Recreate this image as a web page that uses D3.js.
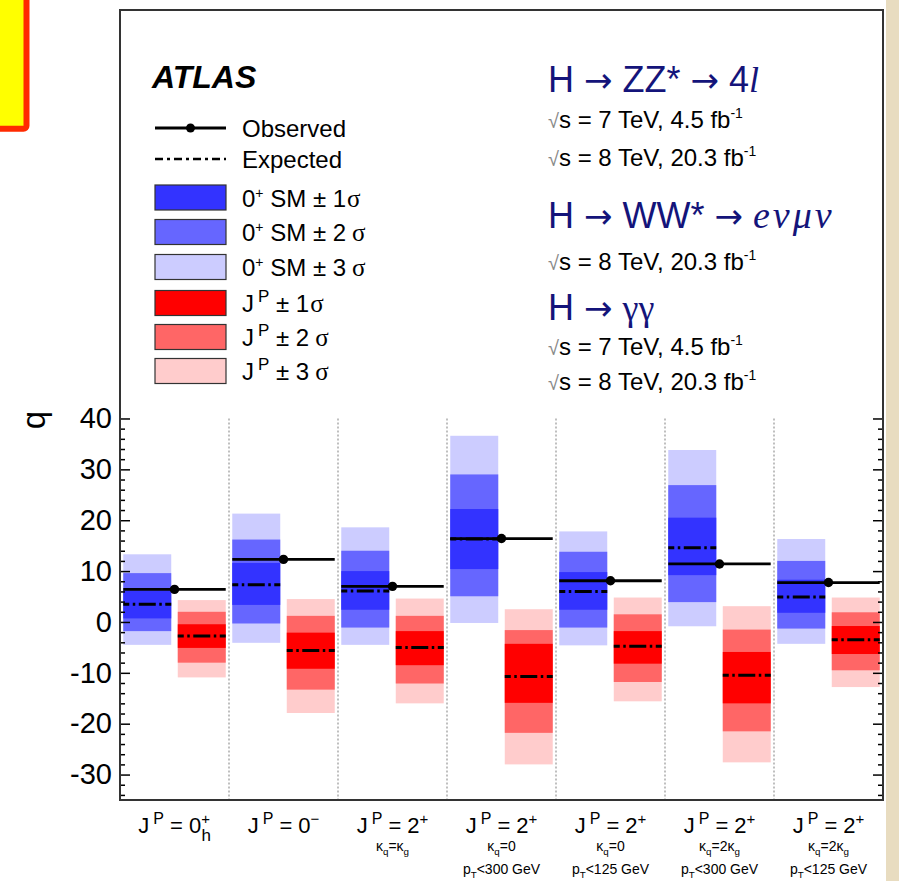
<!DOCTYPE html>
<html>
<head>
<meta charset="utf-8">
<script src="https://cdn.jsdelivr.net/npm/d3@7"></script>
<style>
body{margin:0;background:#fff;}
svg{display:block;font-family:"Liberation Sans",Arial,Helvetica,sans-serif;}
</style>
</head>
<body>
<svg id="chart" width="899" height="881"></svg>
<script>
//////////////// data
var categories=["0h+","0-","2+ kq=kg","2+ kq=0 300","2+ kq=0 125","2+ kq=2kg 300","2+ kq=2kg 125"];
var labelSpin=["0","0","2","2","2","2","2"];
var labelSup=["+","\u2212","+","+","+","+","+"];
var labelSub=["h","","","","","",""];
var labelCoupling=["","","κ_q=κ_g","κ_q=0","κ_q=0","κ_q=2κ_g","κ_q=2κ_g"];
var labelPt=["","","","p_T<300 GeV","p_T<125 GeV","p_T<300 GeV","p_T<125 GeV"];

var observed=[6.4,12.3,7.0,16.4,8.1,11.4,7.75];

// 0+ SM expectation and bands
var expSM=[3.5,7.3,6.1,16.3,6.0,14.6,4.9];
var sm1lo=[0.7,3.35,2.4,10.4,2.4,9.2,1.8];
var sm1hi=[6.2,11.6,10.0,22.2,9.8,20.5,8.3];
var sm2lo=[-1.8,-0.3,-1.1,5.05,-1.1,3.9,-1.3];
var sm2hi=[9.6,16.2,14.0,29.0,13.8,26.9,12.0];
var sm3lo=[-4.5,-4.1,-4.5,-0.2,-4.6,-0.85,-4.3];
var sm3hi=[13.3,21.3,18.6,36.6,17.8,33.8,16.3];

// alternative J^P expectation and bands
var expAlt=[-2.75,-5.6,-5.0,-10.7,-4.8,-10.5,-3.5];
var alt1lo=[-5.1,-9.2,-8.5,-15.9,-8.2,-16.0,-6.3];
var alt1hi=[-0.45,-2.1,-1.8,-4.3,-1.8,-5.9,-0.8];
var alt2lo=[-8.0,-13.3,-12.1,-21.8,-11.8,-21.5,-9.5];
var alt2hi=[2.0,1.2,1.2,-1.6,1.5,-1.5,1.9];
var alt3lo=[-10.9,-17.9,-16.0,-28.0,-15.6,-27.6,-12.8];
var alt3hi=[4.3,4.5,4.6,2.5,4.8,3.1,4.8];

var yTicks=[-30,-20,-10,0,10,20,30,40];
var yMinorTicks=d3.range(-34,40,2).filter(function(v){return v%10!==0;});

//////////////// layout
var svg=d3.select("#chart");
var frame={left:120,right:883,top:10,bottom:800};

var x=d3.scaleBand().domain(categories).range([frame.left,frame.right]).paddingInner(0).paddingOuter(0);
var y=d3.scaleLinear().domain([-35,120.3]).range([frame.bottom,frame.top]);
var bw=x.bandwidth();

var blues=["#3333ff","#6666ff","#ccccff"];
var reds=["#ff0000","#ff6666","#ffcccc"];

// page decorations
svg.append("rect").attr("x",886).attr("y",0).attr("width",13).attr("height",881).attr("fill","#e8dcc0");
svg.append("rect").attr("x",-10).attr("y",-10).attr("width",36.5).attr("height",138.7).attr("rx",3)
	.attr("fill","#ffff00").attr("stroke","#ff2a00").attr("stroke-width",6);

//////////////// bands
var plot=svg.append("g");
categories.forEach(function(c,i){
	var x0=x(c);
	var bx=x0+0.03*bw, rx=x0+0.53*bw, w=0.44*bw;
	var smBands=[[sm3lo[i],sm3hi[i],blues[2]],[sm2lo[i],sm2hi[i],blues[1]],[sm1lo[i],sm1hi[i],blues[0]]];
	var altBands=[[alt3lo[i],alt3hi[i],reds[2]],[alt2lo[i],alt2hi[i],reds[1]],[alt1lo[i],alt1hi[i],reds[0]]];
	smBands.forEach(function(b){
		plot.append("rect").attr("x",bx).attr("width",w).attr("y",y(b[1])).attr("height",y(b[0])-y(b[1])).attr("fill",b[2]);
	});
	altBands.forEach(function(b){
		plot.append("rect").attr("x",rx).attr("width",w).attr("y",y(b[1])).attr("height",y(b[0])-y(b[1])).attr("fill",b[2]);
	});
	//expected medians
	[[bx,expSM[i]],[rx,expAlt[i]]].forEach(function(e){
		plot.append("line").attr("x1",e[0]).attr("x2",e[0]+w).attr("y1",y(e[1])).attr("y2",y(e[1]))
			.attr("stroke","#000").attr("stroke-width",3).attr("stroke-dasharray","17,3.5,2.5,3.5").attr("stroke-dashoffset",11);
	});
	//observed
	plot.append("line").attr("x1",bx).attr("x2",rx+w).attr("y1",y(observed[i])).attr("y2",y(observed[i]))
		.attr("stroke","#000").attr("stroke-width",2.8);
	plot.append("circle").attr("cx",x0+bw/2).attr("cy",y(observed[i])).attr("r",4.7).attr("fill","#000");
	//separator
	if(i>0){
		plot.append("line").attr("x1",x0).attr("x2",x0).attr("y1",y(40)).attr("y2",frame.bottom)
			.attr("stroke","#aaa").attr("stroke-width",1.5).attr("stroke-dasharray","2,2");
	}
});

//////////////// axes
var axL=svg.append("g").attr("transform","translate("+frame.left+",0)")
	.call(d3.axisLeft(y).tickValues(yTicks).tickSizeInner(-10).tickSizeOuter(0).tickPadding(8)
		.tickFormat(function(d){return String(d);}));
var axLm=svg.append("g").attr("transform","translate("+frame.left+",0)")
	.call(d3.axisLeft(y).tickValues(yMinorTicks).tickSizeInner(-5).tickSizeOuter(0).tickFormat(""));
var axR=svg.append("g").attr("transform","translate("+frame.right+",0)")
	.call(d3.axisRight(y).tickValues(yTicks).tickSizeInner(-10).tickSizeOuter(0).tickFormat(""));
var axRm=svg.append("g").attr("transform","translate("+frame.right+",0)")
	.call(d3.axisRight(y).tickValues(yMinorTicks).tickSizeInner(-5).tickSizeOuter(0).tickFormat(""));
[axL,axLm,axR,axRm].forEach(function(a){
	a.select(".domain").remove();
	a.selectAll(".tick line").attr("stroke","#000").attr("stroke-width",1.5);
	a.selectAll(".tick text").attr("font-size",29).attr("font-family","Liberation Sans, Arial, sans-serif").attr("fill","#000");
});

svg.append("rect").attr("x",frame.left).attr("y",frame.top).attr("width",frame.right-frame.left).attr("height",frame.bottom-frame.top)
	.attr("fill","none").attr("stroke","#333").attr("stroke-width",2);

svg.append("text").attr("transform","translate(45,411) rotate(-90)").attr("text-anchor","end")
	.attr("font-size",33).text("q");

//////////////// x labels
function richText(t,str,size){
	//"_x" makes x a subscript
	var parts=str.split(/_(.)/);
	var shift=0;
	parts.forEach(function(p,k){
		if(p==="") return;
		var target=(k%2===1)?size*0.25:0;
		t.append("tspan").attr("dy",target-shift).attr("font-size",(k%2===1)?size*0.7:size).text(p);
		shift=target;
	});
}
categories.forEach(function(c,i){
	var cx=x(c)+bw/2;
	var t=svg.append("text").attr("x",cx).attr("y",833).attr("text-anchor","middle").attr("font-size",22);
	t.append("tspan").text("J");
	t.append("tspan").attr("dx",4).attr("dy",-9).attr("font-size",16).text("P");
	t.append("tspan").attr("dy",9).text(" = "+labelSpin[i]);
	t.append("tspan").attr("dy",-9).attr("font-size",15).text(labelSup[i]);
	if(labelSub[i]){
		t.append("tspan").attr("dx",-8.5).attr("dy",17).attr("font-size",17).text(labelSub[i]);
	}
	if(labelCoupling[i]){
		richText(svg.append("text").attr("x",cx).attr("y",851).attr("text-anchor","middle"),labelCoupling[i],14);
	}
	if(labelPt[i]){
		richText(svg.append("text").attr("x",cx).attr("y",874).attr("text-anchor","middle"),labelPt[i],14);
	}
});

//////////////// legend
svg.append("text").attr("x",152).attr("y",88).attr("font-size",32).attr("font-weight","bold").attr("font-style","italic").text("ATLAS");

var legX=155, legW=71, legTextX=242;
svg.append("line").attr("x1",legX).attr("x2",legX+legW).attr("y1",128).attr("y2",128).attr("stroke","#000").attr("stroke-width",2.8);
svg.append("circle").attr("cx",legX+legW/2).attr("cy",128).attr("r",4.5).attr("fill","#000");
svg.append("line").attr("x1",legX).attr("x2",legX+legW).attr("y1",159).attr("y2",159).attr("stroke","#000").attr("stroke-width",2.5)
	.attr("stroke-dasharray","8,4,3,4");
svg.append("text").attr("x",legTextX).attr("y",136.5).attr("font-size",24).text("Observed");
svg.append("text").attr("x",legTextX).attr("y",167.5).attr("font-size",24).text("Expected");

var legendRows=[
	{y:197.5,fill:blues[0],sm:true,n:"1"},
	{y:232,fill:blues[1],sm:true,n:"2"},
	{y:267,fill:blues[2],sm:true,n:"3"},
	{y:303,fill:reds[0],sm:false,n:"1"},
	{y:337,fill:reds[1],sm:false,n:"2"},
	{y:371,fill:reds[2],sm:false,n:"3"}
];
legendRows.forEach(function(r){
	svg.append("rect").attr("x",legX).attr("y",r.y-12.5).attr("width",legW).attr("height",25)
		.attr("fill",r.fill).attr("stroke","#333").attr("stroke-width",1.2);
	var t=svg.append("text").attr("x",legTextX).attr("y",r.y+9).attr("font-size",24);
	if(r.sm){
		t.append("tspan").text("0");
		t.append("tspan").attr("dy",-9).attr("font-size",14).text("+");
		t.append("tspan").attr("dy",9).text(" SM \u00b1 "+r.n);
	}else{
		t.append("tspan").text("J");
		t.append("tspan").attr("dx",4).attr("dy",-10).attr("font-size",17).text("P");
		t.append("tspan").attr("dy",10).text(" \u00b1 "+r.n);
	}
	t.append("tspan").attr("dx",r.n==="1"?1:6).attr("font-family","Liberation Serif, serif").attr("font-size",25).text("σ");
});

//////////////// channel labels
var navy="#14147a";
function lumiLine(yb,energy,lumi){
	var t=svg.append("text").attr("x",548).attr("y",yb).attr("font-size",24);
	t.append("tspan").attr("fill","#888").attr("font-family","DejaVu Sans, sans-serif").attr("font-size",20).attr("font-weight",200).text("\u221a");
	t.append("tspan").text("s = "+energy+" TeV, "+lumi+" fb");
	t.append("tspan").attr("dx",0).attr("dy",-10).attr("font-size",14).text("-1");
}
function title(yb,pieces){
	var t=svg.append("text").attr("x",548).attr("y",yb).attr("font-size",36).attr("fill",navy);
	pieces.forEach(function(p){
		var s=t.append("tspan").text(p[0]);
		if(p[1]==="arrow") s.attr("font-family","DejaVu Sans, sans-serif").attr("font-size",34);
		if(p[1]==="serif") s.attr("font-family","Liberation Serif, serif");
		if(p[1]==="it") s.attr("font-family","Liberation Serif, serif").attr("font-style","italic");
		if(p[1]==="itwide") s.attr("font-family","Liberation Serif, serif").attr("font-style","italic")
			.attr("font-size",38).attr("letter-spacing",3);
	});
}
title(92,[["H "],["\u2192","arrow"],[" ZZ* "],["\u2192","arrow"],[" 4"],["l","it"]]);
lumiLine(128,"7","4.5");
lumiLine(166,"8","20.3");
title(228,[["H "],["\u2192","arrow"],[" WW* "],["\u2192","arrow"],[" "],["eνμν","itwide"]]);
lumiLine(270,"8","20.3");
title(320,[["H "],["\u2192","arrow"],[" "],["γγ","serif"]]);
lumiLine(355,"7","4.5");
lumiLine(390,"8","20.3");
</script>
</body>
</html>
